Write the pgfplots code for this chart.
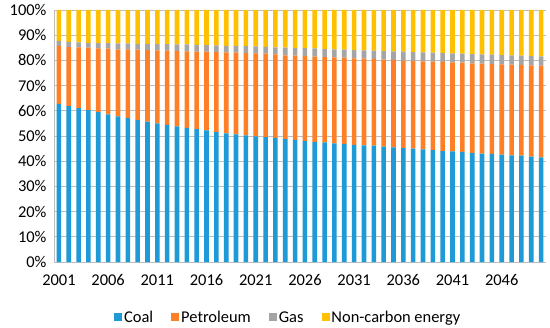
\documentclass[border=0pt]{standalone}
\usepackage{pgfplots}
\usepackage{pgfplotstable}
\pgfplotsset{compat=1.18}
\usepackage{fontspec}
\setmainfont{Carlito}
\definecolor{coal}{RGB}{30,155,215}
\definecolor{petro}{RGB}{255,127,39}
\definecolor{gas}{RGB}{165,165,165}
\definecolor{nonc}{RGB}{255,192,0}
\definecolor{gridgray}{RGB}{190,190,190}
\pgfplotstableread{
idx year coal pet gas non
0 2001 62.7 23.1 1.9 12.3
1 2002 61.9 23.4 2.1 12.6
2 2003 61.1 24.1 2.0 12.8
3 2004 60.3 24.8 1.9 13.0
4 2005 59.5 25.3 2.1 13.1
5 2006 58.6 26.1 2.2 13.1
6 2007 57.8 26.6 2.4 13.2
7 2008 57.1 27.3 2.4 13.2
8 2009 56.3 28.0 2.3 13.4
9 2010 55.7 28.4 2.5 13.4
10 2011 55.0 29.0 2.5 13.5
11 2012 54.4 29.5 2.6 13.5
12 2013 53.8 29.9 2.7 13.6
13 2014 53.2 30.4 2.8 13.6
14 2015 52.7 30.8 2.7 13.8
15 2016 52.2 31.3 2.6 13.9
16 2017 51.5 31.8 2.7 14.0
17 2018 51.0 32.2 2.6 14.2
18 2019 50.6 32.5 2.7 14.2
19 2020 50.2 32.7 2.8 14.3
20 2021 49.9 32.9 2.8 14.4
21 2022 49.6 33.1 2.7 14.6
22 2023 49.3 33.1 2.8 14.8
23 2024 48.9 33.1 3.1 14.9
24 2025 48.5 33.4 3.0 15.1
25 2026 48.1 33.6 3.2 15.1
26 2027 47.7 33.8 3.3 15.2
27 2028 47.5 33.8 3.2 15.5
28 2029 47.1 34.1 3.2 15.6
29 2030 46.9 34.2 3.2 15.7
30 2031 46.5 34.3 3.3 15.9
31 2032 46.3 34.4 3.3 16.0
32 2033 46.2 34.4 3.3 16.1
33 2034 45.8 34.5 3.4 16.3
34 2035 45.5 34.7 3.4 16.4
35 2036 45.2 34.7 3.6 16.5
36 2037 45.0 34.8 3.5 16.7
37 2038 44.7 34.9 3.6 16.8
38 2039 44.4 35.1 3.6 16.9
39 2040 44.0 35.4 3.5 17.1
40 2041 43.9 35.3 3.6 17.2
41 2042 43.7 35.4 3.6 17.3
42 2043 43.3 35.5 3.7 17.5
43 2044 43.0 35.7 3.7 17.6
44 2045 42.9 35.7 3.7 17.7
45 2046 42.6 35.8 3.7 17.9
46 2047 42.3 36.0 3.7 18.0
47 2048 42.2 36.0 3.7 18.1
48 2049 41.8 36.2 3.7 18.3
49 2050 41.5 36.4 3.7 18.4
}\datatable
\begin{document}
\begin{tikzpicture}
\begin{axis}[
  scale only axis,
  width=492bp, height=252bp,
  at={(0,0)}, anchor=south west,
  ybar stacked,
  bar width=4.6bp,
  xmin=-0.5, xmax=49.5,
  ymin=0, ymax=100,
  axis line style={gridgray, line width=0.8bp},
  axis x line*=bottom,
  axis y line*=left,
  xtick={0,5,...,45},
  xticklabels={2001,2006,2011,2016,2021,2026,2031,2036,2041,2046},
  major x tick style={draw=none},
  extra x ticks={-0.5,4.5,...,49.5},
  extra x tick labels={},
  extra x tick style={major tick length=5bp, tick align=outside, tick style={gridgray, line width=0.8bp}},
  ytick={0,10,...,100},
  yticklabel={\pgfmathprintnumber{\tick}\%},
  major y tick style={draw=none},
  ymajorgrids,
  grid style={gridgray, line width=0.8bp},
  /pgf/number format/assume math mode=true,
  tick label style={font=\fontsize{16.5}{19}\selectfont, text=black},
  yticklabel style={xshift=-4bp},
  xticklabel style={yshift=-9bp},
  legend style={at={(0.476,-0.22)}, anchor=center, draw=none, legend columns=4,
    font=\fontsize{16.5}{19}\selectfont,
    /tikz/every odd column/.append style={column sep=0bp},
    /tikz/every even column/.append style={column sep=16bp}},
  legend image code/.code={\fill[#1] (0bp,-4bp) rectangle (8bp,4bp);},
]
\addplot[fill=coal, draw=none] table[x=idx, y=coal] {\datatable};
\addplot[fill=petro, draw=none] table[x=idx, y=pet] {\datatable};
\addplot[fill=gas, draw=none] table[x=idx, y=gas] {\datatable};
\addplot[fill=nonc, draw=none] table[x=idx, y=non] {\datatable};
\legend{Coal, Petroleum, Gas, Non-carbon energy}
\end{axis}
\path[use as bounding box] (-54bp,-66bp) rectangle (496bp,262bp);
\end{tikzpicture}
\end{document}
